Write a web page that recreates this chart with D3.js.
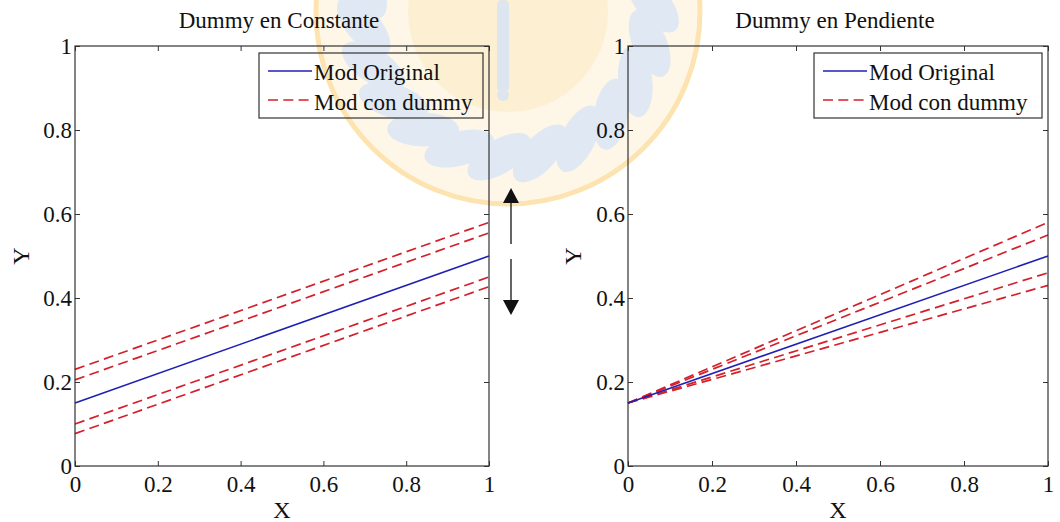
<!DOCTYPE html>
<html>
<head>
<meta charset="utf-8">
<script src="https://cdn.jsdelivr.net/npm/d3@7"></script>
<style>
  html, body { margin: 0; padding: 0; background: #fff; }
  svg { display: block; }
  text { font-family: "Liberation Serif", "Times New Roman", serif; fill: #111; }
</style>
</head>
<body>
<svg id="fig" width="1060" height="522"></svg>
<script>
// Line endpoints at X = 0 and X = 1
const xEnds = [0, 1];
const tickValues = [0, 0.2, 0.4, 0.6, 0.8, 1];
const tickLabels = ["0", "0.2", "0.4", "0.6", "0.8", "1"];
const legendLabels = ["Mod Original", "Mod con dummy"];

// Panel 1: dummy shifts the intercept (parallel lines)
const constOriginal = [0.15, 0.50];
const constDummy = [
  [0.230, 0.580],
  [0.205, 0.555],
  [0.100, 0.450],
  [0.077, 0.427]
];

// Panel 2: dummy changes the slope (common intercept)
const slopeOriginal = [0.15, 0.50];
const slopeDummy = [
  [0.15, 0.58],
  [0.15, 0.55],
  [0.15, 0.46],
  [0.15, 0.43]
];

const panelTitles = ["Dummy en Constante", "Dummy en Pendiente"];

const svg = d3.select("#fig");
const FONT = 23;
const BLUE = "#1f1fb4";
const RED = "#d4202a";

// ---- faint crest in the background ----
const crest = svg.append("g").attr("class", "crest");
const cx = 508, cy = 12;
const rad = Math.PI / 180;
crest.append("circle").attr("cx", cx).attr("cy", cy).attr("r", 192)
  .attr("fill", "#fef7e8").attr("stroke", "#fde3b0").attr("stroke-width", 5);
// wreath leaves around the lower part of the rim
const leafAngles = d3.range(0, 14).map(i => -20 + i * 16.2);
crest.selectAll("ellipse.leaf").data(leafAngles).join("ellipse")
  .attr("class", "leaf")
  .attr("cx", a => cx + 145 * Math.cos(a * rad))
  .attr("cy", a => cy + 145 * Math.sin(a * rad))
  .attr("rx", 36).attr("ry", 17)
  .attr("transform", a => {
    const px = cx + 145 * Math.cos(a * rad);
    const py = cy + 145 * Math.sin(a * rad);
    return `rotate(${a + 55},${px},${py})`;
  })
  .attr("fill", "#e0e8f3");
crest.append("circle").attr("cx", cx).attr("cy", cy).attr("r", 100)
  .attr("fill", "#fdefd2");
crest.append("rect").attr("x", 497).attr("y", 0).attr("width", 12).attr("height", 92)
  .attr("rx", 5).attr("fill", "#dde5f0");
crest.append("circle").attr("cx", 503).attr("cy", 95).attr("r", 6).attr("fill", "#dde5f0");

// ---- panels ----
const panels = [
  { left: 75, right: 489, title: panelTitles[0], orig: constOriginal, dummy: constDummy,
    legend: { x: 259, w: 224 }, ylabX: 21 },
  { left: 628, right: 1048, title: panelTitles[1], orig: slopeOriginal, dummy: slopeDummy,
    legend: { x: 814, w: 228 }, ylabX: 573 }
];
const plotTop = 46, plotBottom = 466;

panels.forEach(p => {
  const x = d3.scaleLinear().domain([0, 1]).range([p.left, p.right]);
  const y = d3.scaleLinear().domain([0, 1]).range([plotBottom, plotTop]);
  const g = svg.append("g");
  const fmt = (d, i) => tickLabels[i];

  const styleAxis = sel => {
    sel.select(".domain").remove();
    sel.selectAll(".tick line").attr("stroke", "#333").attr("stroke-width", 1);
    sel.selectAll(".tick text").attr("font-size", FONT)
      .attr("font-family", "'Liberation Serif', 'Times New Roman', serif").attr("fill", "#111");
  };

  g.append("g").attr("transform", `translate(0,${plotBottom})`)
    .call(d3.axisBottom(x).tickValues(tickValues).tickFormat(fmt).tickSize(-5).tickPadding(10))
    .call(styleAxis);
  g.append("g").attr("transform", `translate(0,${plotTop})`)
    .call(d3.axisTop(x).tickValues(tickValues).tickFormat("").tickSize(-5))
    .call(styleAxis);
  g.append("g").attr("transform", `translate(${p.left},0)`)
    .call(d3.axisLeft(y).tickValues(tickValues).tickFormat(fmt).tickSize(-5).tickPadding(3))
    .call(styleAxis);
  g.append("g").attr("transform", `translate(${p.right},0)`)
    .call(d3.axisRight(y).tickValues(tickValues).tickFormat("").tickSize(-5))
    .call(styleAxis);

  const line = d3.line().x(d => x(d[0])).y(d => y(d[1]));
  const pts = vals => xEnds.map((xv, i) => [xv, vals[i]]);

  g.selectAll("path.dummy").data(p.dummy).join("path")
    .attr("class", "dummy")
    .attr("d", d => line(pts(d)))
    .attr("fill", "none").attr("stroke", RED).attr("stroke-width", 1.7)
    .attr("stroke-dasharray", "10,5.3");
  g.append("path").attr("d", line(pts(p.orig)))
    .attr("fill", "none").attr("stroke", BLUE).attr("stroke-width", 1.6);

  // axes box
  g.append("rect").attr("x", p.left).attr("y", plotTop)
    .attr("width", p.right - p.left).attr("height", plotBottom - plotTop)
    .attr("fill", "none").attr("stroke", "#333").attr("stroke-width", 1.2);

  // title and axis labels
  g.append("text").attr("x", (p.left + p.right) / 2 - 3).attr("y", 28)
    .attr("text-anchor", "middle").attr("font-size", FONT).text(p.title);
  g.append("text").attr("x", (p.left + p.right) / 2).attr("y", 518)
    .attr("text-anchor", "middle").attr("font-size", FONT + 1).text("X");
  g.append("text").attr("transform", `translate(${p.ylabX + 8},256) rotate(-90)`)
    .attr("text-anchor", "middle").attr("font-size", FONT + 1).text("Y");

  // legend
  const lg = g.append("g");
  lg.append("rect").attr("x", p.legend.x).attr("y", 53)
    .attr("width", p.legend.w).attr("height", 65)
    .attr("fill", "none").attr("stroke", "#333").attr("stroke-width", 1.2);
  const sx = p.legend.x + 9;
  lg.append("line").attr("x1", sx).attr("x2", sx + 44).attr("y1", 71).attr("y2", 71)
    .attr("stroke", BLUE).attr("stroke-width", 1.6);
  lg.append("line").attr("x1", sx).attr("x2", sx + 44).attr("y1", 100).attr("y2", 100)
    .attr("stroke", RED).attr("stroke-width", 1.7).attr("stroke-dasharray", "10,5.3");
  lg.selectAll("text.lab").data(legendLabels).join("text")
    .attr("class", "lab")
    .attr("x", sx + 46).attr("y", (d, i) => 80 + i * 30)
    .attr("font-size", FONT).text(d => d);
});

// arrows between the panels
const arrows = svg.append("g").attr("fill", "#111").attr("stroke", "#111");
arrows.append("line").attr("x1", 511).attr("x2", 511).attr("y1", 202).attr("y2", 244).attr("stroke-width", 1.3);
arrows.append("path").attr("d", "M511,188 L503,203 L519,203 Z").attr("stroke", "none");
arrows.append("line").attr("x1", 511).attr("x2", 511).attr("y1", 259).attr("y2", 301).attr("stroke-width", 1.3);
arrows.append("path").attr("d", "M511,315 L503,300 L519,300 Z").attr("stroke", "none");
</script>
</body>
</html>
